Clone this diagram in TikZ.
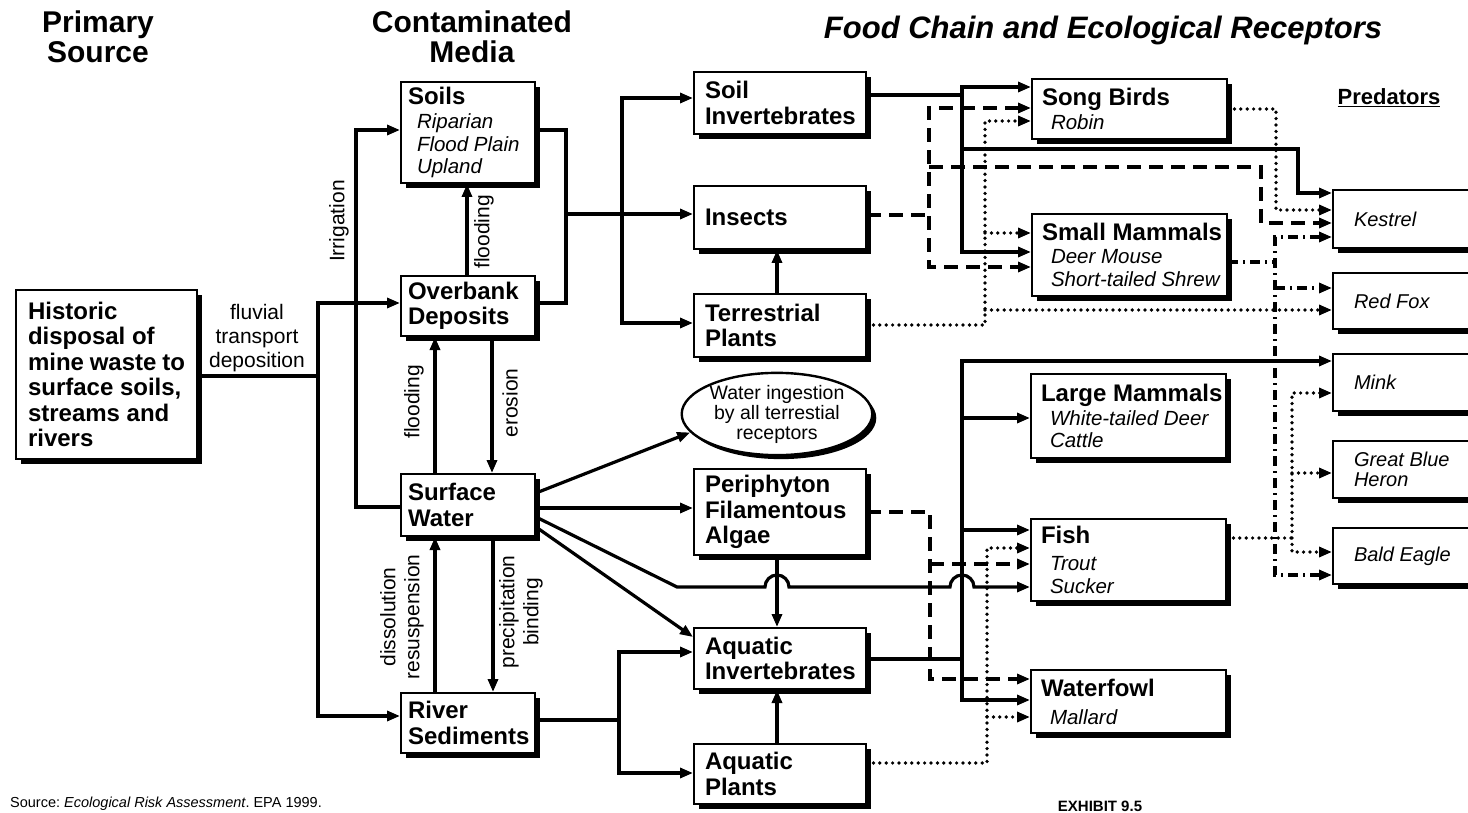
\documentclass[tikz,border=0pt]{standalone}
\usepackage{fontspec}
\setmainfont{Liberation Sans}
\usetikzlibrary{arrows.meta,shadows,shapes.geometric}
\frenchspacing

% indented italic sub-line inside a box
\newcommand\sbl[1]{\hspace*{9pt}\mbox{\fontsize{20.5}{22}\selectfont\mdseries\itshape\spaceskip=0pt\xspaceskip=0pt #1}}

\begin{document}
\begin{tikzpicture}[x=1pt,y=-1pt,
  >={Triangle[length=13pt,width=10pt]},
  shd/.style={drop shadow={shadow xshift=5pt,shadow yshift=-5pt,opacity=1,fill=black}},
  box/.style={draw, line width=2pt, fill=white, anchor=north west, align=left, shd,
    inner ysep=0pt, font=\fontsize{24}{25.5}\selectfont\bfseries,
    execute at begin node={\spaceskip=0pt\xspaceskip=0pt}},
  media/.style={box, text width=120pt, inner xsep=7pt},
  food/.style={box, text width=150pt, inner xsep=11pt},
  recp/.style={box, text width=175pt, inner xsep=10pt},
  pred/.style={box, text width=120pt, inner xsep=21pt, font=\fontsize{20}{20.5}\selectfont\itshape},
  conn/.style={line width=3.2pt},
  dsh/.style={conn, dash pattern=on 14pt off 8pt},
  dot/.style={line width=3.7pt, line cap=round, dash pattern=on 0pt off 6.4pt},
  dd/.style={conn, dash pattern=on 10pt off 5pt on 2pt off 5pt},
  lbl/.style={font=\fontsize{21}{24}\selectfont, align=center},
  head/.style={font=\fontsize{30}{30}\selectfont\bfseries, align=center},
]
\useasboundingbox (0,0) rectangle (1468,813);
\clip (0,0) rectangle (1468,813);

% ---------- headings ----------
\node[head] (hprim) at (98,37) {Primary\\Source};
\node[head] (hmed) at (472,37) {Contaminated\\Media};
\node[font=\fontsize{31}{32}\selectfont\bfseries\itshape] (hfood) at (1103,30) {Food Chain and Ecological Receptors};
\node[font=\fontsize{22}{24}\selectfont\bfseries] (hpred) at (1389,98) {\underline{Predators}};

% ---------- source ----------
\node[box, text width=157pt, inner xsep=12pt, minimum height=169pt,
      font=\fontsize{24}{25.4}\selectfont\bfseries] (hist) at (15,289)
  {Historic\\disposal of\\mine waste to\\surface soils,\\streams and\\rivers};

% ---------- contaminated media ----------
\node[media, minimum height=101pt] (soils) at (400,81)
  {Soils\\[-1.5pt]\sbl{Riparian}\\[-3pt]\sbl{Flood Plain}\\[-3pt]\sbl{Upland}};
\node[media, minimum height=60pt] (over) at (400,275) {Overbank\\Deposits};
\node[media, minimum height=62pt] (sw) at (400,473) {Surface\\Water};
\node[media, minimum height=60pt] (rs) at (400,692) {River\\Sediments};

% ---------- food chain ----------
\node[food, minimum height=62pt] (sinv) at (693,71) {Soil\\Invertebrates};
\node[food, minimum height=63pt] (ins) at (693,185) {Insects};
\node[food, minimum height=63pt] (tp) at (693,293) {Terrestrial\\Plants};
\node[food, minimum height=86pt] (peri) at (693,468) {Periphyton\\Filamentous\\Algae};
\node[food, minimum height=61pt] (ainv) at (693,627) {Aquatic\\Invertebrates};
\node[food, minimum height=60pt] (apl) at (693,743) {Aquatic\\Plants};

\node[ellipse, draw, line width=2.4pt, fill=white,
      drop shadow={shadow xshift=4pt,shadow yshift=-4pt,opacity=1,fill=black},
      minimum width=186pt, minimum height=74pt, inner sep=0pt, align=center,
      font=\fontsize{19.5}{20}\selectfont] (ell) at (777,414)
  {Water ingestion\\by all terrestial\\receptors};

% ---------- receptors ----------
\node[recp, minimum height=60pt] (song) at (1031,78) {Song Birds\\[-1.5pt]\sbl{Robin}};
\node[recp, minimum height=82pt] (smm) at (1031,213)
  {\mbox{Small Mammals}\\[-2.5pt]\sbl{Deer Mouse}\\[-3pt]\sbl{Short-tailed Shrew}};
\node[recp, minimum height=84pt] (lmm) at (1030,373)
  {\mbox{Large Mammals}\\[-1.5pt]\sbl{White-tailed Deer}\\[-4pt]\sbl{Cattle}};
\node[recp, minimum height=82pt] (fish) at (1030,518)
  {Fish\\[1.5pt]\sbl{Trout}\\[-3pt]\sbl{Sucker}};
\node[recp, minimum height=63pt] (wfowl) at (1030,669) {Waterfowl\\[2.5pt]\sbl{Mallard}};

% ---------- predators ----------
\node[pred, minimum height=58pt] (kes) at (1332,189) {Kestrel};
\node[pred, minimum height=56pt] (fox) at (1332,272) {Red Fox};
\node[pred, minimum height=57pt] (mink) at (1332,353) {Mink};
\node[pred, minimum height=57pt] (heron) at (1332,440) {Great Blue\\Heron};
\node[pred, minimum height=56pt] (eagle) at (1332,527) {Bald Eagle};

% ---------- transport labels ----------
\node[lbl] (lfluv) at (257,338) {fluvial\\transport\\deposition};
\node[lbl, rotate=90] (lirr) at (339,221) {Irrigation};
\node[lbl, rotate=90] (lfl1) at (484,232) {flooding};
\node[lbl, rotate=90] (lfl2) at (414,402) {flooding};
\node[lbl, rotate=90] (lero) at (510,403) {erosion};
\node[lbl, rotate=90] (ldis) at (402,617) {dissolution\\resuspension};
\node[lbl, rotate=90] (lpre) at (521,612) {precipitation\\binding};

% ---------- source to media ----------
\draw[conn] (hist.east|-0,376) -- (318,376);
\draw[conn,<->] (over.west|-0,303) -| (318,716) -- (rs.west|-0,716);
\draw[conn,->] (sw.west|-0,507) -| (356,130) -- (soils.west|-0,130);
\draw[conn,->] (over.north-|467,0) -- (soils.south-|467,0);
\draw[conn,->] (sw.north-|435,0) -- (over.south-|435,0);
\draw[conn,->] (over.south-|492,0) -- (sw.north-|492,0);
\draw[conn,->] (rs.north-|435,0) -- (sw.south-|435,0);
\draw[conn,->] (sw.south-|493,0) -- (rs.north-|493,0);

% ---------- media to food chain ----------
\draw[conn] (soils.east|-0,130) -| (566,303) -- (over.east|-0,303);
\draw[conn,->] (566,214) -- (ins.west|-0,214);
\draw[conn,<->] (tp.west|-0,323) -| (622,98) -- (sinv.west|-0,98);
\draw[conn,->] (tp.north-|777,0) -- (ins.south-|777,0);

\draw[conn,->] (sw.east|-0,493) -- (ell.192);
\draw[conn,->] (sw.east|-0,508) -- (peri.west|-0,508);
\draw[conn,->] (sw.east|-0,527) -- (ainv.west|-0,637);
\draw[conn,->] (sw.east|-0,517) -- (677,587) -- (765,587)
  arc[start angle=180,end angle=0,radius=12pt] -- (950,587)
  arc[start angle=180,end angle=0,radius=12pt] -- (fish.west|-0,587);
\draw[conn,->] (peri.south-|777,0) -- (ainv.north-|777,0);
\draw[conn,->] (apl.north-|777,0) -- (ainv.south-|777,0);
\draw[conn] (rs.east|-0,720) -- (619,720);
\draw[conn,<->] (ainv.west|-0,652) -| (619,773) -- (apl.west|-0,773);

% ---------- terrestrial food chain ----------
\draw[conn] (sinv.east|-0,95) -- (962,95);
\draw[conn,<->] (song.west|-0,87) -| (962,252) -- (smm.west|-0,252);
\draw[conn,->] (962,149) -| (1298,193) -- (kes.west|-0,193);

\draw[dsh] (ins.east|-0,215) -- (929,215);
\draw[dsh,<->] (song.west|-0,108) -| (929,267) -- (smm.west|-0,267);
\draw[dsh,->] (929,167) -| (1261,223) -- (kes.west|-0,223);

\draw[dot,->] (tp.east|-0,325) -| (985,121) -- (song.west|-0,121);
\draw[dot,->] (985,233) -- (smm.west|-0,233);
\draw[dot,->] (985,310) -- (fox.west|-0,310);
\draw[dot,->] (song.east|-0,109) -| (1276,210) -- (kes.west|-0,210);

\draw[dd] (smm.east|-0,262) -- (1275,262);
\draw[dd,<->] (kes.west|-0,237) -| (1275,575) -- (eagle.west|-0,575);
\draw[dd,->] (1275,288) -- (fox.west|-0,288);

% ---------- aquatic food chain ----------
\draw[conn] (ainv.east|-0,659) -- (962,659);
\draw[conn,<->] (mink.west|-0,361) -| (962,700) -- (wfowl.west|-0,700);
\draw[conn,->] (962,418) -- (lmm.west|-0,418);
\draw[conn,->] (962,530) -- (fish.west|-0,530);

\draw[dsh,->] (peri.east|-0,512) -| (930,679) -- (wfowl.west|-0,679);
\draw[dsh,->] (930,564) -- (fish.west|-0,564);

\draw[dot,->] (apl.east|-0,763) -| (987,548) -- (fish.west|-0,548);
\draw[dot,->] (987,717) -- (wfowl.west|-0,717);
\draw[dot] (fish.east|-0,538) -- (1292,538);
\draw[dot,<->] (mink.west|-0,393) -| (1292,552) -- (eagle.west|-0,552);
\draw[dot,->] (1292,473) -- (heron.west|-0,473);

% ---------- footer ----------
\node[anchor=west, inner sep=0pt, font=\fontsize{14.5}{16}\selectfont] (src) at (10,804)
  {Source: \textit{Ecological Risk Assessment}. EPA 1999.};
\node[anchor=south, inner sep=0pt, font=\fontsize{15}{17}\selectfont\bfseries] (exh) at (1100,812) {EXHIBIT 9.5};
\end{tikzpicture}
\end{document}
